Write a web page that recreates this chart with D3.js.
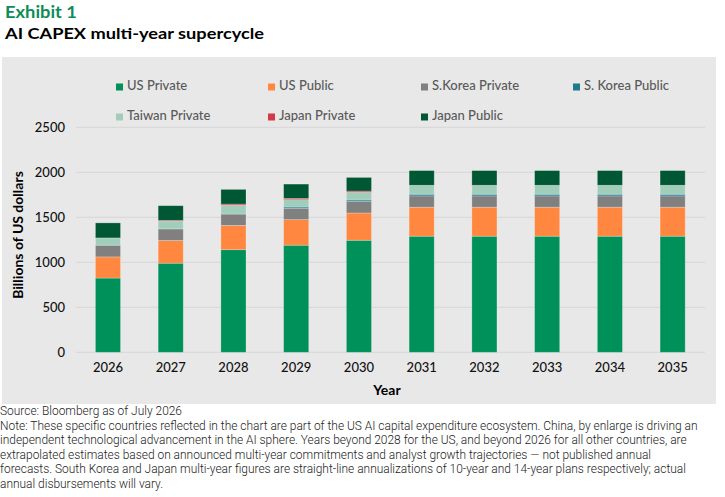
<!DOCTYPE html>
<html>
<head>
<meta charset="utf-8">
<script src="https://cdn.jsdelivr.net/npm/d3@7"></script>
<style>
  html, body { margin: 0; padding: 0; background: #fff; }
  svg { display: block; }
</style>
</head>
<body>
<svg id="chart" width="725" height="497"></svg>
<script>
// ---- data ----
const years = [2026, 2027, 2028, 2029, 2030, 2031, 2032, 2033, 2034, 2035];
const usPrivate = [825, 990, 1140, 1190, 1245, 1290, 1290, 1290, 1290, 1290];
const usPublic = [235, 252, 270, 284, 303, 322, 322, 322, 322, 322];
const skPrivate = [130, 129, 126, 126, 130, 126, 126, 126, 126, 126];
const skPublic = [0, 0, 0, 14, 14, 18, 18, 18, 18, 18];
const twPrivate = [81, 85, 97, 82, 85, 100, 100, 100, 100, 100];
const jpPrivate = [0, 10, 14, 14, 14, 0, 0, 0, 0, 0];
const jpPublic = [167, 163, 163, 159, 152, 163, 163, 163, 163, 163];
const seriesNames = ["US Private", "US Public", "S.Korea Private", "S. Korea Public", "Taiwan Private", "Japan Private", "Japan Public"];
const yTicks = [0, 500, 1000, 1500, 2000, 2500];
const titleText = "Exhibit 1";
const subtitleText = "AI CAPEX multi-year supercycle";
const yTitle = "Billions of US dollars";
const xTitle = "Year";
const noteLines = [
  "Source: Bloomberg as of July 2026",
  "Note: These specific countries reflected in the chart are part of the US AI capital expenditure ecosystem. China, by enlarge is driving an",
  "independent technological advancement in the AI sphere. Years beyond 2028 for the US, and beyond 2026 for all other countries, are",
  "extrapolated estimates based on announced multi-year commitments and analyst growth trajectories \u2014 not published annual",
  "forecasts. South Korea and Japan multi-year figures are straight-line annualizations of 10-year and 14-year plans respectively; actual",
  "annual disbursements will vary."
];

const seriesValues = [usPrivate, usPublic, skPrivate, skPublic, twPrivate, jpPrivate, jpPublic];
const colors = ["#009059", "#FF873F", "#808080", "#1E7B8E", "#A1CEBB", "#D33A47", "#005733"];

const table = years.map((y, i) => {
  const row = { year: y };
  seriesNames.forEach((n, k) => row[n] = seriesValues[k][i]);
  return row;
});

const svg = d3.select("#chart");
const FONT = "Lato, 'Open Sans', sans-serif";

// titles
svg.append("text").attr("x", 5).attr("y", 17.5)
  .attr("font-family", FONT).attr("font-weight", 700).attr("font-size", 17.5)
  .attr("fill", "#0E8C58").attr("textLength", 72).attr("lengthAdjust", "spacingAndGlyphs")
  .text(titleText);
svg.append("text").attr("x", 5).attr("y", 39)
  .attr("font-family", FONT).attr("font-weight", 700).attr("font-size", 16)
  .attr("fill", "#000").attr("textLength", 259).attr("lengthAdjust", "spacingAndGlyphs")
  .text(subtitleText);

// panel
svg.append("rect").attr("x", 2).attr("y", 57).attr("width", 714).attr("height", 347)
  .attr("fill", "#E8E8E8");

// scales
const x = d3.scaleBand().domain(years).range([76.6, 704]).paddingInner(0.6).paddingOuter(0.3);
const y = d3.scaleLinear().domain([0, 2500]).range([352.3, 127.3]);

// gridlines
svg.append("g").selectAll("line").data(yTicks).join("line")
  .attr("x1", 76).attr("x2", 705)
  .attr("y1", d => y(d)).attr("y2", d => y(d))
  .attr("stroke", "#D6D6D6").attr("stroke-width", 1);

// y axis labels
const yAxis = svg.append("g").attr("transform", "translate(65,0)")
  .call(d3.axisLeft(y).tickValues(yTicks).tickFormat(d3.format("d")).tickSize(0).tickPadding(0));
yAxis.select(".domain").remove();
yAxis.selectAll("text").attr("font-family", FONT).attr("font-size", 13).attr("font-weight", 500)
  .attr("fill", "#111");

// x axis labels
const xAxis = svg.append("g").attr("transform", "translate(0,358)")
  .call(d3.axisBottom(x).tickSize(0).tickPadding(5));
xAxis.select(".domain").remove();
xAxis.selectAll("text").attr("font-family", FONT).attr("font-size", 13).attr("font-weight", 500)
  .attr("fill", "#111");

// axis titles
svg.append("text").attr("transform", "translate(23,235) rotate(-90)")
  .attr("text-anchor", "middle").attr("font-family", FONT).attr("font-weight", 700)
  .attr("font-size", 14).attr("fill", "#000").text(yTitle);
svg.append("text").attr("x", 387).attr("y", 395).attr("text-anchor", "middle")
  .attr("font-family", FONT).attr("font-weight", 700).attr("font-size", 14)
  .attr("fill", "#000").text(xTitle);

// stacked bars
const stack = d3.stack().keys(seriesNames);
const stacked = stack(table);
svg.append("g").selectAll("g").data(stacked).join("g")
  .attr("fill", (d, i) => colors[i])
  .selectAll("rect").data(d => d).join("rect")
  .attr("x", d => x(d.data.year))
  .attr("width", x.bandwidth())
  .attr("y", d => y(d[1]))
  .attr("height", d => Math.max(0, y(d[0]) - y(d[1])))
  .attr("stroke", d => (d[1] - d[0]) > 0 ? "rgba(255,255,255,0.3)" : "none")
  .attr("stroke-width", 0.8);

// legend
const legendPos = [
  [116, 90], [268, 90], [421, 90], [573, 90],
  [116, 120], [268, 120], [421, 120]
];
const lg = svg.append("g").selectAll("g").data(seriesNames).join("g")
  .attr("transform", (d, i) => `translate(${legendPos[i][0]},${legendPos[i][1]})`);
lg.append("rect").attr("x", 0).attr("y", -6.5).attr("width", 7).attr("height", 7)
  .attr("fill", (d, i) => colors[i]);
lg.append("text").attr("x", 11).attr("y", 0)
  .attr("font-family", FONT).attr("font-size", 13).attr("font-weight", 500)
  .attr("fill", "#595959").text(d => d);

// notes
const notes = svg.append("g");
const nt = notes.selectAll("text").data(noteLines).join("text")
  .attr("x", 0).attr("y", (d, i) => 415 + i * 14.6)
  .attr("font-family", "Roboto, sans-serif").attr("font-weight", 300).attr("font-size", 12)
  .attr("fill", "#222").text(d => d);
const w0 = nt.nodes()[0].getComputedTextLength();
const factor = 182 / w0;
nt.each(function() {
  const w = this.getComputedTextLength();
  d3.select(this).attr("textLength", Math.min(w * factor, 722)).attr("lengthAdjust", "spacingAndGlyphs");
});
</script>
</body>
</html>
